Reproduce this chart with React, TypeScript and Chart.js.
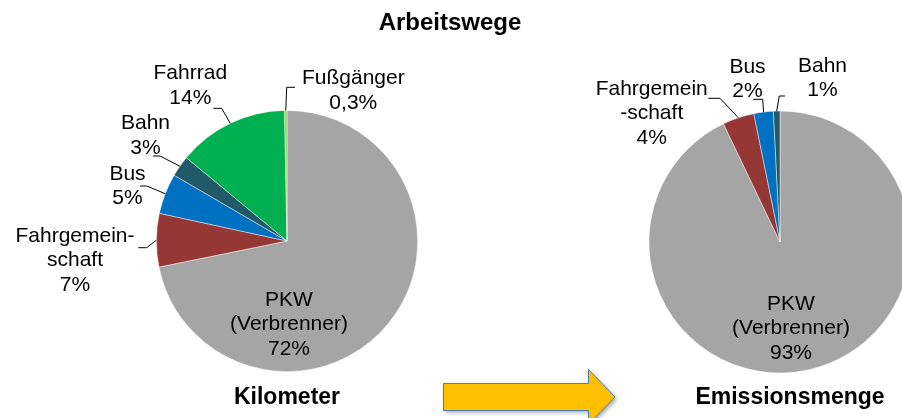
import React, { useEffect, useRef } from "react";
import { Chart, registerables } from "chart.js";

Chart.register(...registerables);

// ---- data ----
const kmNames = ["PKW\n(Verbrenner)", "Fahrgemein-\nschaft", "Bus", "Bahn", "Fahrrad", "Fußgänger"];
const kmValues = [71.8, 6.6, 5.0, 2.6, 13.7, 0.3];
const kmPercent = ["72%", "7%", "5%", "3%", "14%", "0,3%"];

const emNames = ["PKW\n(Verbrenner)", "Fahrgemein\n-schaft", "Bus", "Bahn"];
const emValues = [92.9, 3.9, 2.4, 0.8];
const emPercent = ["93%", "4%", "2%", "1%"];

const chartTitle = "Arbeitswege";
const kmCaption = "Kilometer";
const emCaption = "Emissionsmenge";

// ---- styles ----
const kmColors = ["#A5A5A5", "#953735", "#0070C0", "#215968", "#00B050", "#92D050"];
const emColors = ["#A5A5A5", "#953735", "#0070C0", "#215968"];

const FONT = "'Liberation Sans', Arial, sans-serif";
const LINE_H = 24.4;

type LabelLayout = { x: number; y: number; from?: [number, number]; elbow?: [number, number] };

const kmLayout: LabelLayout[] = [
  { x: 289, y: 306 },
  { x: 75, y: 241.7, from: [138.3, 247.7], elbow: [146.7, 247.7] },
  { x: 127.5, y: 180, from: [140, 186], elbow: [146.7, 186] },
  { x: 145.5, y: 129.3, from: [153, 156], elbow: [160, 156] },
  { x: 190.3, y: 79.3, from: [213.3, 108.3], elbow: [221.7, 108.3] },
  { x: 353.3, y: 84.3, from: [295, 87.3], elbow: [286.7, 87.3] },
];

const emLayout: LabelLayout[] = [
  { x: 791, y: 310 },
  { x: 651.7, y: 95, from: [708.3, 98.3], elbow: [720, 98.3] },
  { x: 747.5, y: 72.7, from: [753.3, 99.3], elbow: [762.7, 99.3] },
  { x: 822.5, y: 71.7, from: [785, 96], elbow: [779.3, 96] },
];

function drawSliceLabels(chart: any, names: string[], pct: string[], layout: LabelLayout[]) {
  const ctx: CanvasRenderingContext2D = chart.ctx;
  const meta = chart.getDatasetMeta(0);
  ctx.save();
  ctx.fillStyle = "#000";
  ctx.strokeStyle = "#000";
  ctx.lineWidth = 1;
  ctx.font = `21px ${FONT}`;
  ctx.textAlign = "center";
  ctx.textBaseline = "alphabetic";
  meta.data.forEach((arc: any, i: number) => {
    const L = layout[i];
    if (!L) return;
    const p = arc.getProps(["x", "y", "startAngle", "endAngle", "outerRadius"], true);
    const mid = (p.startAngle + p.endAngle) / 2;
    const px = p.x + Math.cos(mid) * p.outerRadius;
    const py = p.y + Math.sin(mid) * p.outerRadius;
    if (L.from && L.elbow) {
      ctx.beginPath();
      ctx.moveTo(L.from[0], L.from[1]);
      ctx.lineTo(L.elbow[0], L.elbow[1]);
      ctx.lineTo(px, py);
      ctx.stroke();
    }
    const lines = [...names[i].split("\n"), pct[i]];
    lines.forEach((t, j) => ctx.fillText(t, L.x, L.y + j * LINE_H));
  });
  ctx.restore();
}

function drawDecor(chart: any) {
  const ctx: CanvasRenderingContext2D = chart.ctx;
  ctx.save();
  ctx.fillStyle = "#000";
  ctx.textAlign = "center";
  ctx.textBaseline = "alphabetic";
  ctx.font = `bold 24px ${FONT}`;
  ctx.fillText(chartTitle, 450, 29.5);
  ctx.font = `bold 23px ${FONT}`;
  ctx.fillText(kmCaption, 287, 403.5);
  ctx.fillText(emCaption, 790, 404);
  // arrow
  ctx.beginPath();
  ctx.moveTo(443.5, 383.5);
  ctx.lineTo(588.5, 383.5);
  ctx.lineTo(588.5, 369.5);
  ctx.lineTo(615, 397);
  ctx.lineTo(588.5, 424.5);
  ctx.lineTo(588.5, 410.5);
  ctx.lineTo(443.5, 410.5);
  ctx.closePath();
  ctx.shadowColor = "rgba(0,0,0,0.35)";
  ctx.shadowBlur = 4;
  ctx.shadowOffsetX = 2;
  ctx.shadowOffsetY = 2;
  ctx.fillStyle = "#FFC000";
  ctx.fill();
  ctx.shadowColor = "transparent";
  ctx.strokeStyle = "#4A7EBB";
  ctx.lineWidth = 1;
  ctx.stroke();
  ctx.restore();
}

export default function App() {
  const leftRef = useRef<HTMLCanvasElement>(null);
  const rightRef = useRef<HTMLCanvasElement>(null);

  useEffect(() => {
    const left = new Chart(leftRef.current!, {
      type: "pie",
      data: {
        labels: kmNames,
        datasets: [
          {
            data: kmValues,
            backgroundColor: kmColors,
            borderColor: "rgba(255,255,255,0.6)",
            borderWidth: 0.75,
          },
        ],
      },
      options: {
        responsive: false,
        animation: false,
        devicePixelRatio: 1,
        layout: { padding: { left: 156, right: 484, top: 110, bottom: 46 } },
        plugins: { legend: { display: false }, tooltip: { enabled: false } },
      },
      plugins: [
        {
          id: "kmDecor",
          afterDraw: (c: any) => {
            drawSliceLabels(c, kmNames, kmPercent, kmLayout);
            drawDecor(c);
          },
        },
      ],
    });

    const right = new Chart(rightRef.current!, {
      type: "pie",
      data: {
        labels: emNames,
        datasets: [
          {
            data: emValues,
            backgroundColor: emColors,
            borderColor: "rgba(255,255,255,0.6)",
            borderWidth: 0.75,
            radius: 131,
            clip: false,
          } as any,
        ],
      },
      options: {
        responsive: false,
        animation: false,
        devicePixelRatio: 1,
        layout: { padding: { left: 658, right: 0, top: 111, bottom: 45 } },
        plugins: { legend: { display: false }, tooltip: { enabled: false } },
      },
      plugins: [
        {
          id: "emDecor",
          afterDraw: (c: any) => drawSliceLabels(c, emNames, emPercent, emLayout),
        },
      ],
    });

    return () => {
      left.destroy();
      right.destroy();
    };
  }, []);

  const cs: React.CSSProperties = { position: "absolute", left: 0, top: 0, width: 902, height: 418 };
  return (
    <div
      style={{
        position: "fixed",
        left: 0,
        top: 0,
        width: 902,
        height: 418,
        overflow: "hidden",
        background: "#fff",
      }}
    >
      <canvas ref={leftRef} width={902} height={418} style={cs} />
      <canvas ref={rightRef} width={902} height={418} style={cs} />
    </div>
  );
}
